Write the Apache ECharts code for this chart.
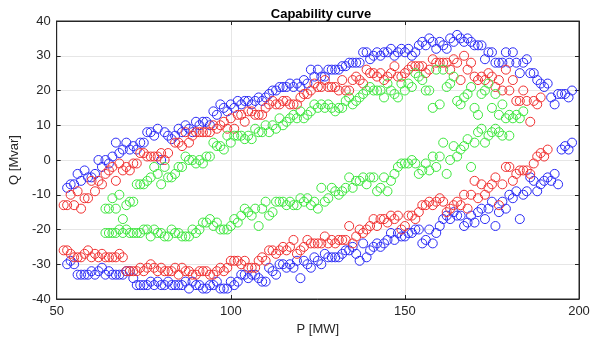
<!DOCTYPE html>
<html><head><meta charset="utf-8">
<script src="https://cdn.jsdelivr.net/npm/echarts@6/dist/echarts.min.js"></script>
<style>html,body{margin:0;padding:0;background:#fff}#c{width:608px;height:341px}</style>
</head><body><div id="c"></div>
<script>
var titleText = 'Capability curve';
var xLabel = 'P [MW]';
var yLabel = 'Q [Mvar]';
var xTicks = [50, 100, 150, 200];
var yTicks = [-40, -30, -20, -10, 0, 10, 20, 30, 40];

var blueUpper = [[53,-8],[54,-7],[55,-7],[56,-4],[57,-6],[58,-3],[59,-5],[60,-5],[61,-4],[62,0],[63,-2],[64,0],[65,-1],[66,1],[67,5],[68,2],[69,3],[70,5],[71,3],[72,4],[73,3],[74,5],[75,5],[76,8],[77,8],[78,7],[79,9],[80,0],[81,8],[82,7],[83,6],[84,7],[85,9],[86,8],[87,10],[88,9],[89,8],[90,11],[91,10],[92,11],[93,11],[94,10],[95,14],[96,13],[97,16],[98,15],[99,14],[100,16],[101,15],[102,17],[103,16],[104,17],[105,17],[106,16],[107,17],[108,18],[109,17],[110,18],[111,19],[112,20],[113,20],[114,21],[115,21],[116,21],[117,22],[118,21],[119,22],[120,21],[121,23],[122,22],[123,26],[124,24],[125,26],[126,24],[127,24],[128,26],[129,26],[130,26],[131,26],[132,27],[133,27],[134,28],[135,28],[136,28],[137,28],[138,31],[139,31],[140,29],[141,30],[142,31],[143,30],[144,31],[145,31],[146,32],[147,30],[148,31],[149,32],[150,31],[151,32],[152,30],[153,31],[154,33],[155,34],[156,33],[157,35],[158,34],[159,32],[160,34],[161,33],[162,32],[163,35],[164,34],[165,36],[166,35],[167,34],[168,35],[169,34],[170,33],[171,33],[172,33],[173,29],[174,31],[175,31],[176,28],[177,28],[178,28],[179,31],[180,28],[181,31],[182,28],[183,25],[184,28],[185,29],[186,25],[187,25],[188,23],[189,22],[190,21],[191,22],[192,18],[193,16],[194,19],[195,19],[196,19],[197,18],[198,20]];
var blueLower = [[53,-30],[54,-29],[55,-30],[56,-33],[57,-33],[58,-33],[59,-33],[60,-32],[61,-33],[62,-32],[63,-31],[64,-33],[65,-32],[66,-33],[67,-33],[68,-33],[69,-33],[70,-32],[71,-32],[72,-34],[73,-36],[74,-36],[75,-36],[76,-36],[77,-35],[78,-36],[79,-35],[80,-36],[81,-36],[82,-35],[83,-36],[84,-36],[85,-36],[86,-36],[87,-35],[88,-37],[89,-35],[90,-36],[91,-36],[92,-37],[93,-37],[94,-36],[95,-36],[96,-35],[97,-37],[98,-37],[99,-37],[100,-35],[101,-36],[102,-35],[103,-33],[104,-33],[105,-34],[106,-33],[107,-33],[108,-34],[109,-35],[110,-35],[111,-31],[112,-32],[113,-33],[114,-30],[115,-30],[116,-31],[117,-30],[118,-31],[119,-29],[120,-34],[121,-29],[122,-30],[123,-31],[124,-28],[125,-29],[126,-30],[127,-27],[128,-28],[129,-28],[130,-28],[131,-28],[132,-27],[133,-26],[134,-26],[135,-25],[136,-27],[137,-29],[138,-24],[139,-28],[140,-26],[141,-25],[142,-24],[143,-25],[144,-24],[145,-23],[146,-21],[147,-23],[148,-21],[149,-22],[150,-22],[151,-21],[152,-21],[153,-20],[154,-20],[155,-24],[156,-23],[157,-20],[158,-24],[159,-21],[160,-19],[161,-17],[162,-16],[163,-17],[164,-15],[165,-16],[166,-16],[167,-19],[168,-18],[169,-16],[170,-18],[171,-15],[172,-14],[173,-17],[174,-14],[175,-12],[176,-19],[177,-15],[178,-12],[179,-14],[180,-10],[181,-11],[182,-9],[183,-17],[184,-10],[185,-9],[186,-5],[187,-6],[188,-9],[189,-7],[190,-6],[191,-5],[192,-6],[193,-4],[194,-7],[195,3],[196,4],[197,3],[198,5]];
var redUpper = [[52,-13],[53,-13],[54,-10],[55,-13],[56,-9],[57,-14],[58,-11],[59,-11],[60,-6],[61,-9],[62,-6],[63,-7],[64,-4],[65,-3],[66,-2],[67,-6],[68,-1],[69,-3],[70,-2],[71,-3],[72,-1],[73,-1],[74,2],[75,2],[76,1],[77,1],[78,1],[79,1],[80,2],[81,0],[82,2],[84,5],[85,5],[86,4],[87,8],[88,5],[89,7],[90,8],[91,8],[92,8],[93,8],[94,8],[95,10],[96,9],[97,10],[98,11],[99,9],[100,12],[101,9],[102,13],[103,13],[104,11],[105,14],[106,14],[107,13],[108,13],[109,13],[110,15],[111,16],[112,17],[113,16],[114,16],[115,17],[116,17],[117,16],[118,16],[119,16],[120,18],[121,19],[122,19],[123,20],[124,22],[125,21],[126,21],[127,23],[128,21],[129,21],[130,21],[131,20],[132,23],[133,20],[134,20],[135,23],[136,24],[137,23],[138,22],[139,26],[140,25],[141,25],[142,24],[143,25],[144,23],[145,24],[146,25],[147,27],[148,24],[149,24],[150,25],[151,26],[152,27],[153,27],[154,27],[155,27],[156,25],[157,26],[158,29],[159,28],[160,28],[161,28],[162,28],[163,26],[164,29],[165,28],[166,23],[167,30],[168,26],[169,28],[170,24],[171,23],[172,24],[173,23],[174,25],[175,24],[176,21],[177,23],[178,20],[179,26],[180,20],[181,23],[182,17],[183,17],[184,20],[185,17],[186,11],[187,17],[188,16],[189,18]];
var redLower = [[52,-26],[53,-26],[54,-27],[55,-28],[56,-28],[57,-28],[58,-27],[59,-26],[60,-28],[61,-27],[62,-28],[63,-27],[64,-28],[65,-28],[66,-28],[67,-28],[68,-27],[69,-28],[70,-32],[71,-32],[72,-32],[73,-32],[74,-31],[75,-32],[76,-31],[77,-30],[78,-31],[79,-32],[80,-31],[81,-32],[82,-32],[83,-32],[84,-31],[85,-33],[86,-31],[87,-32],[88,-32],[89,-33],[90,-33],[91,-32],[92,-32],[93,-32],[94,-33],[95,-33],[96,-32],[97,-31],[98,-32],[99,-31],[100,-29],[101,-29],[102,-29],[103,-30],[104,-29],[105,-31],[106,-31],[107,-31],[108,-29],[109,-28],[110,-29],[111,-26],[112,-26],[113,-27],[114,-26],[115,-25],[116,-26],[117,-25],[118,-23],[119,-27],[120,-26],[121,-25],[122,-23],[123,-24],[124,-24],[125,-24],[126,-24],[127,-22],[128,-24],[129,-23],[130,-24],[131,-23],[132,-23],[133,-23],[134,-19],[135,-24],[136,-22],[137,-20],[138,-21],[139,-20],[140,-19],[141,-17],[142,-19],[143,-17],[144,-17],[145,-18],[146,-16],[147,-17],[148,-16],[149,-20],[150,-19],[151,-16],[152,-16],[153,-17],[154,-15],[155,-13],[156,-13],[157,-12],[158,-13],[159,-12],[160,-11],[161,-12],[162,-15],[163,-14],[164,-13],[165,-12],[166,-13],[167,-10],[168,-14],[169,-10],[170,-6],[171,-11],[172,-7],[173,-10],[174,-8],[175,-7],[176,-5],[177,-13],[178,-7],[179,-2],[180,-2],[181,-6],[182,-4],[183,-3],[184,-3],[185,-3],[186,-4],[187,-1],[188,1],[189,2],[190,1],[191,3]];
var greenUpper = [[64,-14],[65,-14],[66,-11],[67,-14],[68,-10],[69,-17],[70,-13],[71,-12],[72,-12],[73,-7],[74,-7],[75,-7],[76,-6],[77,-5],[78,-2],[79,-4],[80,-7],[81,-2],[82,-5],[83,-5],[84,-4],[85,-2],[86,-2],[87,1],[88,0],[89,0],[90,-1],[91,0],[92,-1],[93,1],[94,1],[95,5],[96,4],[97,4],[98,3],[99,7],[100,5],[101,7],[102,7],[103,7],[104,6],[105,7],[106,6],[107,9],[108,8],[109,8],[110,10],[111,8],[112,10],[113,9],[114,12],[115,10],[116,11],[117,12],[118,13],[119,12],[120,14],[121,12],[122,13],[123,14],[124,16],[125,15],[126,16],[127,15],[128,16],[129,15],[130,14],[131,15],[132,15],[133,17],[134,18],[135,16],[136,17],[137,18],[138,19],[139,20],[140,21],[141,20],[142,20],[143,20],[144,18],[145,22],[146,20],[147,19],[148,18],[149,22],[150,20],[151,22],[152,21],[153,25],[154,24],[155,23],[156,20],[157,20],[158,15],[159,26],[160,16],[161,26],[162,21],[163,22],[164,24],[165,17],[166,16],[167,18],[168,19],[169,21],[170,15],[171,13],[172,19],[173,20],[174,22],[175,15],[176,19],[177,13],[178,16],[179,12],[180,13],[181,12],[182,13],[183,12],[184,14]];
var greenLower = [[64,-21],[65,-21],[66,-21],[67,-21],[68,-20],[69,-21],[70,-20],[71,-21],[72,-21],[73,-21],[74,-21],[75,-20],[76,-20],[77,-22],[78,-20],[79,-21],[80,-21],[81,-22],[82,-22],[83,-20],[84,-21],[85,-21],[86,-22],[87,-22],[88,-22],[89,-20],[90,-21],[91,-20],[92,-18],[93,-18],[94,-17],[95,-19],[96,-18],[97,-20],[98,-20],[99,-20],[100,-19],[101,-17],[102,-18],[103,-16],[104,-14],[105,-15],[106,-16],[107,-14],[108,-19],[109,-14],[110,-12],[111,-16],[112,-15],[113,-12],[114,-12],[115,-12],[116,-13],[117,-12],[118,-13],[119,-13],[120,-11],[121,-12],[122,-11],[123,-13],[124,-12],[125,-14],[126,-8],[127,-12],[128,-11],[129,-8],[130,-9],[131,-10],[132,-9],[133,-8],[134,-5],[135,-8],[136,-6],[137,-6],[138,-5],[139,-7],[140,-5],[141,-5],[142,-9],[143,-8],[144,-5],[145,-9],[146,-6],[147,-4],[148,-2],[149,-1],[150,-1],[151,-1],[152,0],[153,-1],[154,-4],[155,-3],[156,-1],[157,-3],[158,1],[159,-2],[160,1],[161,5],[162,-4],[163,0],[164,4],[165,1],[166,3],[167,4],[168,6],[169,-2],[170,5],[171,8],[172,9],[173,5],[174,7],[175,8],[176,9],[177,8],[178,7],[180,7]];

var chart = echarts.init(document.getElementById('c'), null, {renderer: 'canvas'});
var font = 'Liberation Sans, Arial, Helvetica, sans-serif';
var axisColor = '#262626';
function mkSeries(data, color) {
  return {
    type: 'scatter', data: data, symbol: 'circle', symbolSize: 9,
    itemStyle: {color: 'rgba(255,255,255,0)', borderColor: color, borderWidth: 1, opacity: 1},
    emphasis: {disabled: true}, animation: false
  };
}
var option = {
  animation: false,
  title: {text: titleText, left: 316, top: 3, textAlign: 'center',
    textStyle: {fontFamily: font, fontSize: 13, fontWeight: 'bold', color: '#000'}},
  grid: {left: 54, right: 29, top: 21, bottom: 39, show: true, borderColor: axisColor, borderWidth: 1, backgroundColor: 'transparent'},
  xAxis: [{
    type: 'value', min: xTicks[0], max: xTicks[xTicks.length-1], interval: 50,
    name: xLabel, nameLocation: 'middle', nameGap: 24,
    nameTextStyle: {fontFamily: font, fontSize: 13, color: '#262626'},
    axisLine: {show: true, onZero: false, lineStyle: {color: axisColor}},
    axisTick: {show: true, inside: true, length: 4, lineStyle: {color: axisColor}},
    axisLabel: {fontFamily: font, fontSize: 13, color: '#262626', margin: 6},
    splitLine: {show: true, lineStyle: {color: '#e6e6e6', width: 1}}
  }, {
    type: 'value', position: 'top', min: xTicks[0], max: xTicks[xTicks.length-1], interval: 50,
    axisLine: {show: true, onZero: false, lineStyle: {color: axisColor}},
    axisTick: {show: true, inside: true, length: 4, lineStyle: {color: axisColor}},
    axisLabel: {show: false}, splitLine: {show: false}
  }],
  yAxis: [{
    type: 'value', min: yTicks[0], max: yTicks[yTicks.length-1], interval: 10,
    name: yLabel, nameLocation: 'middle', nameGap: 29, nameRotate: 90,
    nameTextStyle: {fontFamily: font, fontSize: 13, color: '#262626'},
    axisLine: {show: true, onZero: false, lineStyle: {color: axisColor}},
    axisTick: {show: true, inside: true, length: 4, lineStyle: {color: axisColor}},
    axisLabel: {fontFamily: font, fontSize: 13, color: '#262626', margin: 6},
    splitLine: {show: true, lineStyle: {color: '#e6e6e6', width: 1}}
  }, {
    type: 'value', position: 'right', min: yTicks[0], max: yTicks[yTicks.length-1], interval: 10,
    axisLine: {show: true, onZero: false, lineStyle: {color: axisColor}},
    axisTick: {show: true, inside: true, length: 4, lineStyle: {color: axisColor}},
    axisLabel: {show: false}, splitLine: {show: false}
  }],
  series: [
    mkSeries(blueUpper.concat(blueLower), '#2a2af5'),
    mkSeries(redUpper.concat(redLower), '#f03030'),
    mkSeries(greenUpper.concat(greenLower), '#3ce63c')
  ]
};
chart.setOption(option);
</script>
</body></html>
